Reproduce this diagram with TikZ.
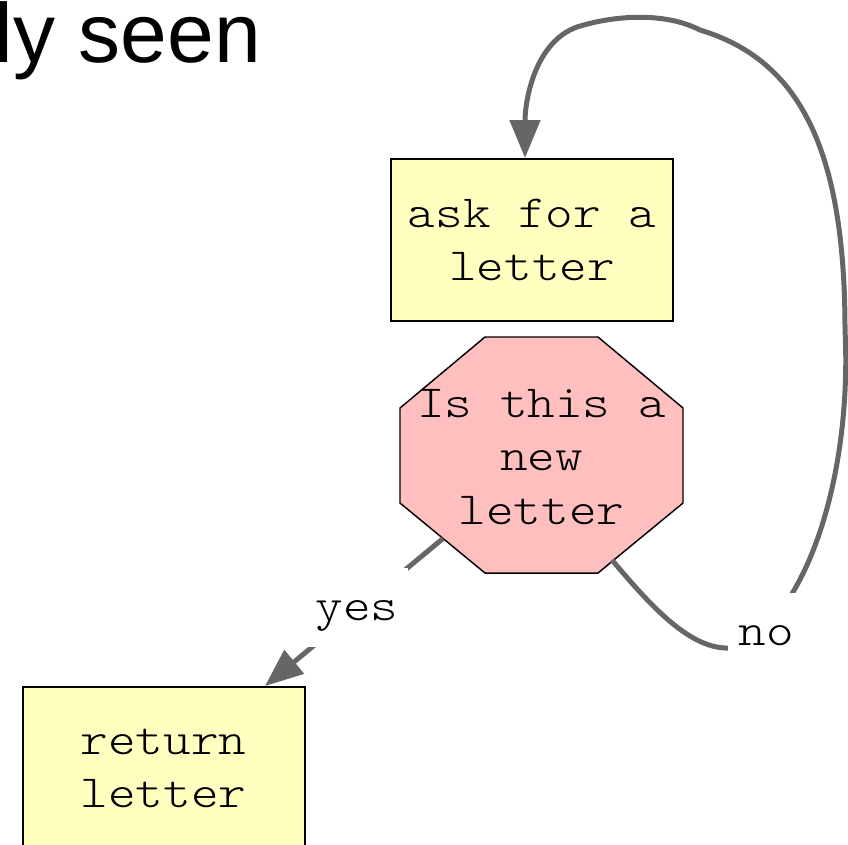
\documentclass[tikz,border=0pt]{standalone}
\usepackage{fontspec}
\setmainfont{Liberation Sans}
\newfontfamily\courfont[FakeStretch=1.143]{Latin Modern Mono Light}
\usetikzlibrary{arrows.meta,calc}
\definecolor{boxyellow}{RGB}{255,255,192}
\definecolor{octpink}{RGB}{255,191,191}
\definecolor{edgegray}{RGB}{102,102,102}
\tikzset{
  boxnode/.style={draw=black, line width=1.5pt, fill=boxyellow, minimum width=211.5pt, minimum height=121.5pt,
    align=center, font=\fontsize{34.5}{39.75}\selectfont\courfont, inner sep=0pt},
  octtext/.style={align=center, font=\fontsize{34.5}{40.1}\selectfont\courfont, inner sep=0pt},
  edgeline/.style={draw=edgegray, line width=3.75pt},
  tipstyle/.style={-{Triangle[length=28.5pt,width=22.5pt]}},
  lbl/.style={fill=white, font=\fontsize{34.5}{39.75}\selectfont\courfont, inner xsep=7.5pt, inner ysep=0pt,
    text height=39pt, text depth=20.25pt}
}
\begin{document}
\begin{tikzpicture}[x=0.75pt,y=-0.75pt]
\useasboundingbox (0,0) rectangle (848,844);
\clip (0,0) rectangle (848,844);
% title fragment
\node[anchor=base west, inner sep=0pt, font=\fontsize{63}{75}\selectfont] (title) at (-5.5,62) {ly seen};
% boxes
\node[boxnode] (ask) at (532,240) {ask for a\\letter};
\node[boxnode] (ret) at (163.5,768) {return\\letter};
% octagon
\filldraw[fill=octpink, draw=black, line width=1.1pt]
  (485,337) -- (598,337) -- (683,408) -- (683,503) -- (598,573) -- (485,573) -- (400,503) -- (400,408) -- cycle;
\node[octtext] (q) at (541.5,457) {Is this a\\new\\letter};
\coordinate (qsw) at (443,538.5);
\coordinate (qse) at (612,560);
% edges
\draw[edgeline, tipstyle] (qsw) -- ($(ret.north)+(101.5,0)$);
\draw[edgeline, tipstyle] (qse) .. controls (650,605) and (690,650) .. (730,648)
   .. controls (765,646) and (780,615) .. (793,592)
   .. controls (830,530) and (850,430) .. (845,330)
   .. controls (845,150) and (800,60) .. (700,30)
   .. controls (665,12) and (615,15) .. (577,27)
   .. controls (535,42) and (525,100) .. ($(ask.north)+(-7,0)$);
% labels
\node[lbl, anchor=base] (yes) at (357,620) {yes};
\node[lbl, anchor=base] (no) at (766,645) {no};
\end{tikzpicture}
\end{document}
